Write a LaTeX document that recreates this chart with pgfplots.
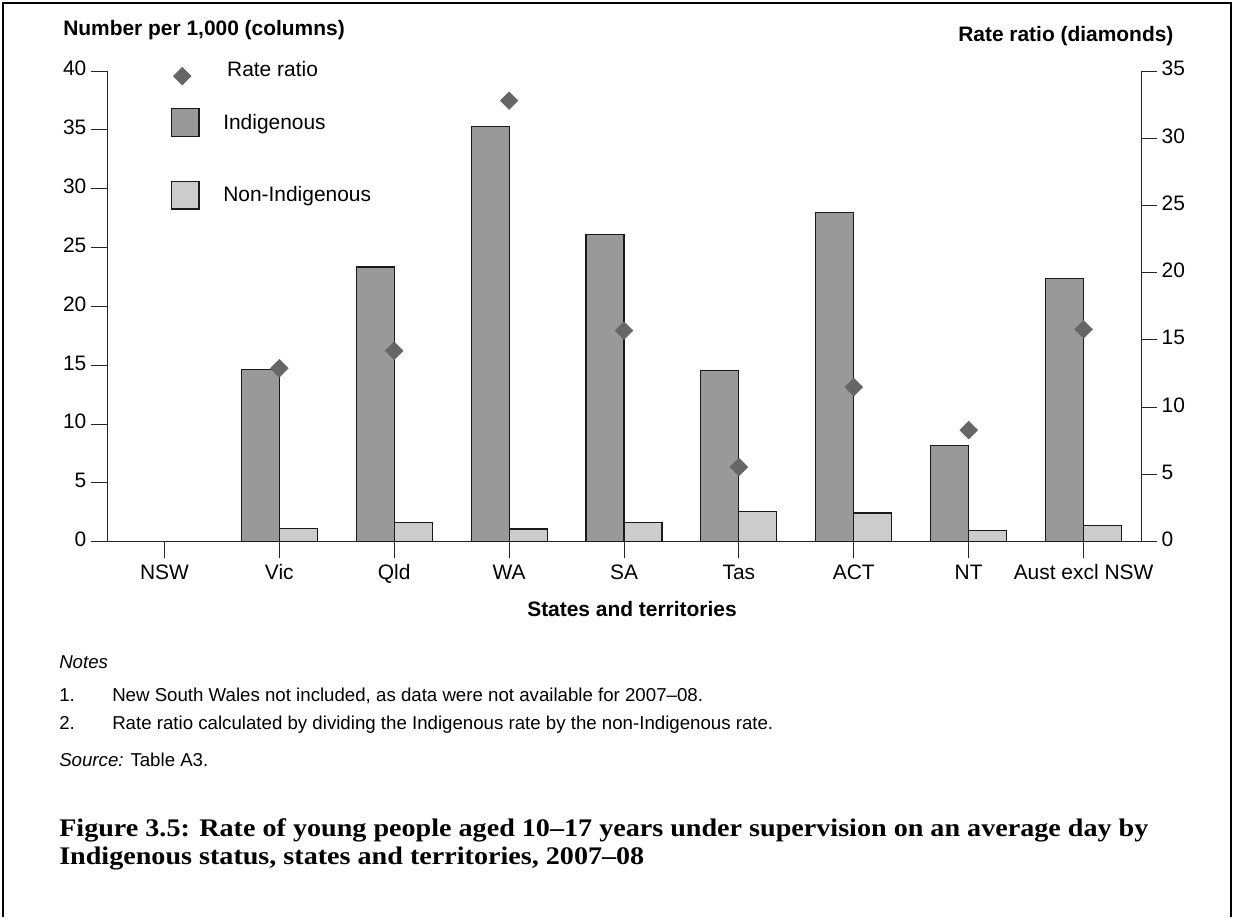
\documentclass[border=0pt]{standalone}
\usepackage{fontspec}
\setmainfont{Liberation Sans}
\newfontfamily\capfont{Liberation Serif}[FakeStretch=1.11]
\usepackage{pgfplots}
\usepackage{pgfplotstable}
\pgfplotsset{compat=1.18}

\definecolor{indig}{HTML}{999999}
\definecolor{nonindig}{HTML}{CCCCCC}
\definecolor{ratio}{HTML}{666666}
\definecolor{edge}{HTML}{1A1A1A}

% x: 1 Vic ... 8 Aust excl NSW (NSW not available)
\pgfplotstableread{
x ind non ratio
1 14.65 1.13 12.9
2 23.35 1.65 14.2
3 35.3  1.08 32.8
4 26.1  1.66 15.7
5 14.55 2.58 5.55
6 28.0  2.44 11.5
7 8.2   0.97 8.3
8 22.4  1.41 15.8
}\rates

\newcommand\lbl{\fontsize{15.7pt}{18pt}\selectfont}
\newcommand\notefont{\fontsize{14pt}{16pt}\selectfont}

\pgfplotsset{
  common/.style={
    at={(80.25pt,-406.275pt)}, anchor=south west,
    scale only axis, width=775.5pt, height=353pt,
    xmin=-0.5, xmax=8.5, ymin=0,
    enlargelimits=false,
    tick align=outside, major tick length=12pt,
    tick style={line width=0.75pt, color=black!85},
    axis line style={line width=0.75pt, color=black!85, -},
    ticklabel style={font=\lbl},
    typeset ticklabels with strut,
    /pgf/number format/assume math mode=true,
    legend style={draw=none, fill=none, inner sep=0pt, font=\lbl,
      cells={anchor=west}},
  },
}

\tikzset{note/.style={anchor=west, font=\notefont, inner sep=0pt, text height=10pt, text depth=3pt}}

\begin{document}
\begin{tikzpicture}
\begin{scope}[x=0.75pt, y=-0.75pt]
  \path[use as bounding box] (0,0) rectangle (1234,917);
  \draw[line width=1.5pt] (3,917) -- (3,3) -- (1231,3) -- (1231,917);
  \node[anchor=west, font=\lbl\bfseries, inner sep=0pt] at (63,30) {Number per 1,000 (columns)};
  \node[anchor=west, font=\lbl\bfseries, inner sep=0pt] at (958,36) {Rate ratio (diamonds)};
  \node[font=\lbl\bfseries, inner sep=0pt] at (632,609) {States and territories};
  \node[note] at (59,664) {\itshape Notes};
  \node[note] at (59,697) {1.};
  \node[note] at (112,697) {New South Wales not included, as data were not available for 2007–08.};
  \node[note] at (59,725) {2.};
  \node[note] at (112,725) {Rate ratio calculated by dividing the Indigenous rate by the non-Indigenous rate.};
  \node[note] at (59,762) {\textit{Source:} Table A3.};
  \node[anchor=west, font=\fontsize{19pt}{21pt}\capfont\bfseries, inner sep=0pt, text height=13pt, text depth=4pt] at (59,830) {Figure 3.5: Rate of young people aged 10–17 years under supervision on an average day by};
  \node[anchor=west, font=\fontsize{19pt}{21pt}\capfont\bfseries, inner sep=0pt, text height=13pt, text depth=4pt] at (59,858) {Indigenous status, states and territories, 2007–08};
\end{scope}

\begin{axis}[
  common,
  ymax=40,
  axis x line*=bottom, axis y line*=left,
  xtick={0,...,8},
  xticklabels={NSW,Vic,Qld,WA,SA,Tas,ACT,NT,Aust excl NSW},
  ytick={0,5,...,40},
  legend style={at={(0.0619,0.9214)}, anchor=north west,
    row sep=33pt, column sep=15.8pt},
]
\addplot[ybar, bar width=28.5pt, bar shift=-14.25pt, fill=indig, draw=edge, line width=0.9pt,
  legend image code/.code={\draw[fill=indig, draw=edge, line width=0.9pt] (0pt,-10.3pt) rectangle (20.3pt,10.3pt);}]
  table[x=x, y=ind] {\rates};
\addlegendentry{Indigenous}
\addplot[ybar, bar width=28.5pt, bar shift=14.25pt, fill=nonindig, draw=edge, line width=0.9pt,
  legend image code/.code={\draw[fill=nonindig, draw=edge, line width=0.9pt] (0pt,-10.3pt) rectangle (20.3pt,10.3pt);}]
  table[x=x, y=non] {\rates};
\addlegendentry{Non-Indigenous}
\end{axis}

\begin{axis}[
  common,
  ymax=35,
  axis y line*=right, axis x line=none,
  xtick=\empty,
  ytick={0,5,...,35},
  legend style={at={(0.064,0.998)}, anchor=west, column sep=25pt},
]
\addplot[only marks, mark=square*, mark size=4.7pt,
  mark options={rotate=45, fill=ratio, draw=ratio},
  legend image code/.code={\draw[mark=square*, mark size=4.7pt, mark options={rotate=45, fill=ratio, draw=ratio}] plot[only marks] coordinates {(0pt,-4.5pt)};}]
  table[x=x, y=ratio] {\rates};
\addlegendentry{Rate ratio}
\end{axis}
\end{tikzpicture}
\end{document}
